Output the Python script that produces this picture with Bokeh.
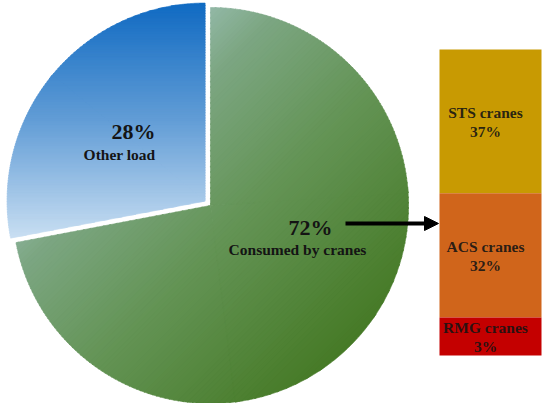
import numpy as np
from bokeh.plotting import figure
from bokeh.models import Range1d, Arrow, NormalHead, ColumnDataSource
from bokeh.core.properties import value
from bokeh.embed import file_html
from bokeh.resources import INLINE

# ---------------- data ----------------
pie_labels = ["Other load", "Consumed by cranes"]
pie_values = [28, 72]
crane_labels = ["STS cranes", "ACS cranes", "RMG cranes"]
crane_values = [37, 32, 3]
crane_colors = ["#C89A02", "#D0651B", "#C40000"]

# ---------------- layout ----------------
W, H = 542, 403
FONT = value("Liberation Serif")
TXT = "#141414"
CX, CY, R = 210.0, 206.0, 198.0       # pie centre / radius (data units = px)
EXPLODE = 7.0                          # offset of the "Other load" slice
BAR_L, BAR_R, BAR_B, BAR_T = 439, 541, 56, 362
MIN_SEG = 38.0
DY = 6                                 # text baseline correction

p = figure(width=W, height=H, x_range=Range1d(0, W), y_range=Range1d(411 - H, 411),
           output_backend="svg", toolbar_location=None, min_border=0,
           x_axis_location=None, y_axis_location=None)
p.grid.visible = False
p.outline_line_color = None
p.background_fill_color = "white"
p.border_fill_color = "white"


def wedge_poly(cx, cy, r, a0, a1, n=200):
    t = np.linspace(a0, a1, n)
    xs = np.concatenate([[cx], cx + r * np.cos(t)])
    ys = np.concatenate([[cy], cy + r * np.sin(t)])
    return np.column_stack([xs, ys])


def clip(poly, u, c):
    out = []
    n = len(poly)
    for i in range(n):
        P, Q = poly[i], poly[(i + 1) % n]
        dp, dq = P @ u - c, Q @ u - c
        if dp >= 0:
            out.append(P)
        if (dp >= 0) != (dq >= 0):
            t = dp / (dp - dq)
            out.append(P + t * (Q - P))
    return np.array(out) if out else np.zeros((0, 2))


def interp_color(stops, t):
    ts = [s[0] for s in stops]
    cols = np.array([s[1] for s in stops], float)
    rgb = [np.interp(t, ts, cols[:, k]) for k in range(3)]
    return "#%02x%02x%02x" % tuple(int(round(v)) for v in rgb)


def gradient_wedge(cx, cy, r, a0, a1, u, stops, n=90):
    """Linear gradient fill of a wedge, built from convex sub-wedges cut into bands."""
    u = np.asarray(u, float)
    u = u / np.linalg.norm(u)
    full = wedge_poly(cx, cy, r, a0, a1, 400)
    s = full @ u
    smin, smax = s.min(), s.max()
    ds = (smax - smin) / n
    k = int(np.ceil((a1 - a0) / (np.pi / 2)))
    cuts = np.linspace(a0, a1, k + 1)
    xs, ys, cs = [], [], []
    for j in range(k):
        e = cuts[j + 1] + (0.025 if j < k - 1 else 0.0)
        poly = wedge_poly(cx, cy, r, cuts[j], e)
        for i in range(n):
            s0 = smin + i * ds - 0.4
            s1 = smin + (i + 1) * ds + 0.4
            part = clip(poly, u, s0)
            if len(part) < 3:
                continue
            part = clip(part, -u, -s1)
            if len(part) < 3:
                continue
            xs.append(list(part[:, 0]))
            ys.append(list(part[:, 1]))
            cs.append(interp_color(stops, (i + 0.5) / n))
    p.patches(xs=xs, ys=ys, fill_color=cs, line_color=cs, line_width=0.6)


total = float(sum(pie_values))
a_start = np.pi / 2
spans = [2 * np.pi * v / total for v in pie_values]

# Other load slice (exploded), gradient top -> bottom
a0, a1 = a_start, a_start + spans[0]
mid = (a0 + a1) / 2
bx, by = CX + EXPLODE * np.cos(mid), CY + EXPLODE * np.sin(mid)
blue_stops = [(0.0, (16, 106, 194)), (0.5, (98, 157, 214)), (1.0, (200, 222, 242))]
gradient_wedge(bx, by, R, a0, a1, (0, -1), blue_stops)

# Consumed by cranes slice, gradient diagonal (upper-left light -> lower-right dark)
g0, g1 = a1, a_start + 2 * np.pi
green_stops = [(0.0, (146, 184, 166)), (0.15, (124, 166, 130)), (0.5, (100, 148, 86)),
               (1.0, (70, 122, 38))]
gradient_wedge(CX, CY, R, g0, g1, (1, -1), green_stops)

# ---------------- stacked bar of crane shares ----------------
vals = np.array(crane_values, float)
bar_total = BAR_T - BAR_B
h = vals / vals.sum() * bar_total
small = h < MIN_SEG
h[small] = MIN_SEG
h[~small] = vals[~small] / vals[~small].sum() * (bar_total - MIN_SEG * small.sum())
tops = BAR_T - np.concatenate([[0], np.cumsum(h)[:-1]])
bottoms = tops - h
bar_src = ColumnDataSource(dict(left=[BAR_L] * 3, right=[BAR_R] * 3, top=tops,
                                bottom=bottoms, color=crane_colors))
p.quad(left="left", right="right", top="top", bottom="bottom", fill_color="color",
       line_color=None, source=bar_src)

centers = (tops + bottoms) / 2
bar_x = (BAR_L + BAR_R) / 2 - 5
line1 = list(crane_labels)
line2 = [f"{v}%" for v in crane_values]
p.text(x=[bar_x] * 3, y=list(centers + 3 + DY), text=line1, text_font=FONT,
       text_font_style="bold", text_font_size="15.5px", text_color=TXT, text_alpha=0.9,
       text_align="center", text_baseline="alphabetic")
p.text(x=[bar_x] * 3, y=list(centers - 16 + DY), text=line2, text_font=FONT,
       text_font_style="bold", text_font_size="15.5px", text_color=TXT, text_alpha=0.9,
       text_align="center", text_baseline="alphabetic")

# ---------------- pie labels ----------------
p.text(x=[155], y=[274 + DY], text=[f"{pie_values[0]}%"], text_font=FONT,
       text_font_style="bold", text_font_size="22px", text_color=TXT, text_align="right",
       text_baseline="alphabetic")
p.text(x=[155], y=[251 + DY], text=[pie_labels[0]], text_font=FONT, text_font_style="bold",
       text_font_size="15.5px", text_color=TXT, text_align="right", text_baseline="alphabetic")
p.text(x=[310], y=[178 + DY], text=[f"{pie_values[1]}%"], text_font=FONT,
       text_font_style="bold", text_font_size="22px", text_color=TXT, text_align="center",
       text_baseline="alphabetic")
p.text(x=[297], y=[156 + DY], text=[pie_labels[1]], text_font=FONT, text_font_style="bold",
       text_font_size="15.5px", text_color=TXT, text_align="center", text_baseline="alphabetic")

# arrow from the 72% label to the bar
p.add_layout(Arrow(end=NormalHead(size=14, fill_color="black", line_color="black"),
                   x_start=345, y_start=188, x_end=BAR_L - 1, y_end=188,
                   line_color="black", line_width=4))

open("out.html", "w").write(file_html(p, INLINE))
